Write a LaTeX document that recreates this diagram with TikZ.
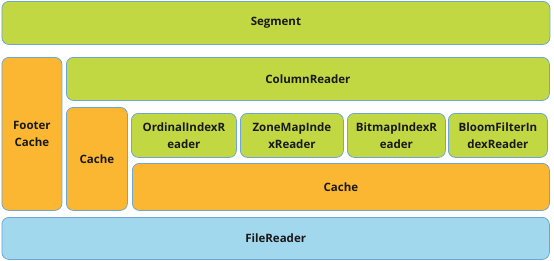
\documentclass[tikz,border=0pt]{standalone}
\usepackage{fontspec}
\setmainfont{Open Sans}
\definecolor{grn}{RGB}{193,216,67}
\definecolor{org}{RGB}{252,183,50}
\definecolor{blu}{RGB}{162,216,238}
\definecolor{edge}{RGB}{108,166,214}
\begin{document}
\begin{tikzpicture}[x=1pt,y=-1pt,
  box/.style={draw=edge, line width=0.8pt, rounded corners=7pt, anchor=north west,
    inner sep=0pt, align=center, font=\fontsize{11.5}{17}\selectfont\bfseries, text=black!90},
  g/.style={box, fill=grn}, o/.style={box, fill=org}, b/.style={box, fill=blu}]
\useasboundingbox (0,0) rectangle (554,260);
\node[g, minimum width=548pt, minimum height=43pt] (seg) at (1.5,1) {Segment};
\node[o, minimum width=60pt, minimum height=153pt] (fcache) at (1.5,57) {Footer\\Cache};
\node[g, minimum width=483pt, minimum height=43pt] (colr) at (66,57) {ColumnReader};
\node[o, minimum width=61pt, minimum height=103pt] (cache1) at (66,107) {Cache};
\node[g, minimum width=105pt, minimum height=44pt] (ord) at (131,113) {OrdinalIndexR\\eader};
\node[g, minimum width=103pt, minimum height=44pt] (zone) at (240,113) {ZoneMapInde\\xReader};
\node[g, minimum width=98pt, minimum height=44pt] (bmp) at (347,113) {BitmapIndexR\\eader};
\node[g, minimum width=99pt, minimum height=44pt] (bloom) at (448,113) {BloomFilterIn\\dexReader};
\node[o, minimum width=417pt, minimum height=47pt] (cache2) at (132,163) {Cache};
\node[b, minimum width=547.5pt, minimum height=42pt] (file) at (1.5,217) {FileReader};
\end{tikzpicture}
\end{document}
